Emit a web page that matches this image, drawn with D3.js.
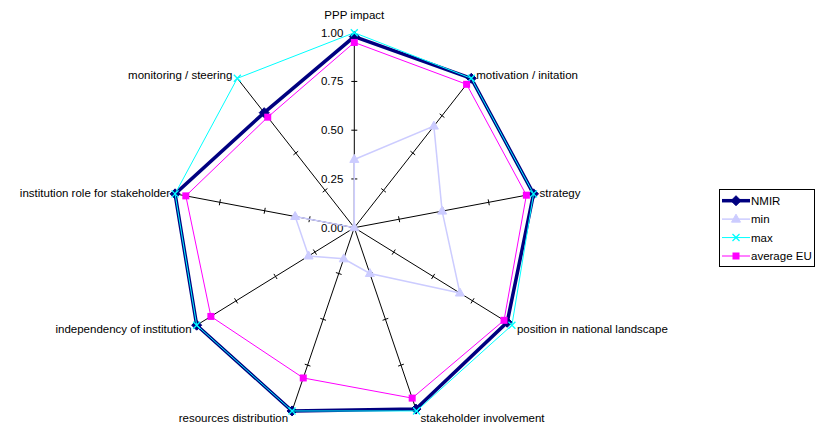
<!DOCTYPE html>
<html>
<head>
<meta charset="utf-8">
<script src="https://cdn.jsdelivr.net/npm/d3@7"></script>
<style>
  html, body { margin: 0; padding: 0; background: #fff; }
  svg { display: block; font-family: "Liberation Sans", Arial, sans-serif; }
</style>
</head>
<body>
<svg id="chart" width="825" height="425"></svg>
<script>
// Radar axes, clockwise from the top
const categories = [
  "PPP impact",
  "motivation / initation",
  "strategy",
  "position in national landscape",
  "stakeholder involvement",
  "resources distribution",
  "independency of institution",
  "institution role for stakeholder",
  "monitoring / steering"
];

const nmirValues = [0.98, 1.00, 1.00, 0.97, 0.99, 1.00, 1.00, 1.00, 0.77];
const minValues  = [0.35, 0.68, 0.49, 0.67, 0.25, 0.17, 0.29, 0.33, 0.00];
const maxValues  = [1.00, 1.00, 1.00, 1.00, 1.00, 1.00, 1.00, 1.00, 1.00];
const avgEUValues = [0.95, 0.96, 0.96, 0.95, 0.93, 0.82, 0.91, 0.94, 0.74];

const tickValues = [0, 0.25, 0.5, 0.75, 1];
const tickLabels = ["0.00", "0.25", "0.50", "0.75", "1.00"];

const seriesNames = ["NMIR", "min", "max", "average EU"];

const svg = d3.select("#chart");

const cx = 354.3, cy = 227.7;
const r = d3.scaleLinear().domain([0, 1]).range([0, 195]);
const xStretch = 182 / 195;

const angle = d3.scaleLinear().domain([0, categories.length]).range([0, 2 * Math.PI]);

function pt(i, v) {
  const a = angle(i);
  return [cx + Math.sin(a) * r(v) * xStretch, cy - Math.cos(a) * r(v)];
}

const styles = [
  { name: seriesNames[0], values: nmirValues, color: "#000080", width: 3.5, marker: "diamond" },
  { name: seriesNames[1], values: minValues, color: "#CCCCFF", width: 1.5, marker: "triangle" },
  { name: seriesNames[2], values: maxValues, color: "#00FFFF", width: 1, marker: "cross" },
  { name: seriesNames[3], values: avgEUValues, color: "#FF00FF", width: 1, marker: "square" }
];

// Axis spokes
const axes = svg.append("g");
categories.forEach((c, i) => {
  const [x1, y1] = pt(i, 1);
  axes.append("line")
    .attr("x1", cx).attr("y1", cy).attr("x2", x1).attr("y2", y1)
    .attr("stroke", "#000").attr("stroke-width", 1);
  // tick marks perpendicular to each spoke
  tickValues.slice(1, 4).forEach(v => {
    const [tx, ty] = pt(i, v);
    let dx = x1 - cx, dy = y1 - cy;
    const len = Math.hypot(dx, dy);
    const nx = -dy / len * 3, ny = dx / len * 3;
    axes.append("line")
      .attr("x1", tx - nx).attr("y1", ty - ny)
      .attr("x2", tx + nx).attr("y2", ty + ny)
      .attr("stroke", "#000").attr("stroke-width", 1);
  });
});

// Value labels on the top spoke
tickValues.forEach((v, k) => {
  svg.append("text")
    .attr("x", cx - 11)
    .attr("y", cy - r(v))
    .attr("dy", "0.35em")
    .attr("text-anchor", "end")
    .attr("font-size", 11.5)
    .attr("fill", "#000")
    .text(tickLabels[k]);
});

// Marker drawing
function drawMarker(g, type, x, y, color) {
  if (type === "diamond") {
    g.append("path")
      .attr("d", `M${x},${y - 5}L${x + 5},${y}L${x},${y + 5}L${x - 5},${y}Z`)
      .attr("fill", color).attr("stroke", color);
  } else if (type === "triangle") {
    g.append("path")
      .attr("d", `M${x},${y - 5}L${x + 4.5},${y + 3}L${x - 4.5},${y + 3}Z`)
      .attr("fill", color).attr("stroke", color);
  } else if (type === "cross") {
    g.append("path")
      .attr("d", `M${x - 3.5},${y - 3.5}L${x + 3.5},${y + 3.5}M${x - 3.5},${y + 3.5}L${x + 3.5},${y - 3.5}`)
      .attr("stroke", color).attr("stroke-width", 1.3).attr("fill", "none");
  } else if (type === "square") {
    g.append("rect")
      .attr("x", x - 3.5).attr("y", y - 3.5).attr("width", 7).attr("height", 7)
      .attr("fill", color);
  }
}

const line = d3.line().curve(d3.curveLinearClosed);

styles.forEach(s => {
  const g = svg.append("g");
  const pts = s.values.map((v, i) => pt(i, v));
  g.append("path")
    .attr("d", line(pts))
    .attr("fill", "none")
    .attr("stroke", s.color)
    .attr("stroke-width", s.width)
    .attr("stroke-linejoin", "miter");
  pts.forEach(p => drawMarker(g, s.marker, p[0], p[1], s.color));
});

// Category labels
const labelPos = [
  { anchor: "middle", dx: 0, dy: -18 },
  { anchor: "start", dx: 5, dy: -3 },
  { anchor: "start", dx: 6, dy: -1 },
  { anchor: "start", dx: 5, dy: 4 },
  { anchor: "start", dx: 4, dy: 7 },
  { anchor: "end", dx: -4, dy: 7 },
  { anchor: "end", dx: -5, dy: 4 },
  { anchor: "end", dx: -5, dy: -1 },
  { anchor: "end", dx: -5, dy: -3 }
];
categories.forEach((c, i) => {
  const [x, y] = pt(i, 1);
  const lp = labelPos[i];
  svg.append("text")
    .attr("x", x + lp.dx)
    .attr("y", y + lp.dy)
    .attr("dy", "0.35em")
    .attr("text-anchor", lp.anchor)
    .attr("font-size", 11.5)
    .attr("fill", "#000")
    .text(c);
});

// Legend
const lg = svg.append("g");
lg.append("rect")
  .attr("x", 719.5).attr("y", 189.5).attr("width", 95).attr("height", 77)
  .attr("fill", "#fff").attr("stroke", "#000").attr("stroke-width", 1);
const legendY = d3.scalePoint().domain(seriesNames).range([200.7, 256]);
styles.forEach(s => {
  const y = legendY(s.name);
  lg.append("line")
    .attr("x1", 722).attr("x2", 750).attr("y1", y).attr("y2", y)
    .attr("stroke", s.color).attr("stroke-width", s.width);
  drawMarker(lg, s.marker, 736, y, s.color);
  lg.append("text")
    .attr("x", 751).attr("y", y).attr("dy", "0.35em")
    .attr("font-size", 11.5).attr("fill", "#000")
    .text(s.name);
});
</script>
</body>
</html>
